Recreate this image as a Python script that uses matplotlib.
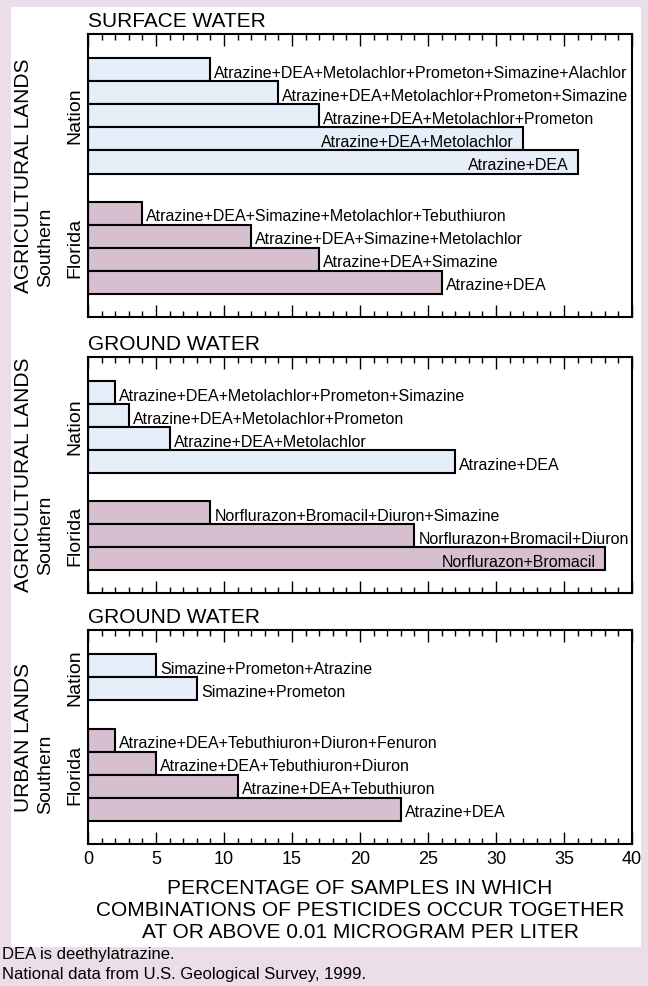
import matplotlib
matplotlib.use("Agg")
import matplotlib.pyplot as plt
from matplotlib.patches import Rectangle
from matplotlib.ticker import MultipleLocator
from matplotlib.transforms import blended_transform_factory

plt.rcParams["font.family"] = ["Liberation Sans", "DejaVu Sans"]

# surface water, agricultural lands
sw_nation_labels = [
    "Atrazine+DEA+Metolachlor+Prometon+Simazine+Alachlor",
    "Atrazine+DEA+Metolachlor+Prometon+Simazine",
    "Atrazine+DEA+Metolachlor+Prometon",
    "Atrazine+DEA+Metolachlor",
    "Atrazine+DEA",
]
sw_nation_values = [9, 14, 17, 32, 36]
sw_florida_labels = [
    "Atrazine+DEA+Simazine+Metolachlor+Tebuthiuron",
    "Atrazine+DEA+Simazine+Metolachlor",
    "Atrazine+DEA+Simazine",
    "Atrazine+DEA",
]
sw_florida_values = [4, 12, 17, 26]

# ground water, agricultural lands
gwa_nation_labels = [
    "Atrazine+DEA+Metolachlor+Prometon+Simazine",
    "Atrazine+DEA+Metolachlor+Prometon",
    "Atrazine+DEA+Metolachlor",
    "Atrazine+DEA",
]
gwa_nation_values = [2, 3, 6, 27]
gwa_florida_labels = [
    "Norflurazon+Bromacil+Diuron+Simazine",
    "Norflurazon+Bromacil+Diuron",
    "Norflurazon+Bromacil",
]
gwa_florida_values = [9, 24, 38]

# ground water, urban lands
gwu_nation_labels = ["Simazine+Prometon+Atrazine", "Simazine+Prometon"]
gwu_nation_values = [5, 8]
gwu_florida_labels = [
    "Atrazine+DEA+Tebuthiuron+Diuron+Fenuron",
    "Atrazine+DEA+Tebuthiuron+Diuron",
    "Atrazine+DEA+Tebuthiuron",
    "Atrazine+DEA",
]
gwu_florida_values = [2, 5, 11, 23]

x_ticks = [0, 5, 10, 15, 20, 25, 30, 35, 40]
x_label = ("PERCENTAGE OF SAMPLES IN WHICH\n"
           "COMBINATIONS OF PESTICIDES OCCUR TOGETHER\n"
           "AT OR ABOVE 0.01 MICROGRAM PER LITER")
notes = "DEA is deethylatrazine.\nNational data from U.S. Geological Survey, 1999."

BG = "#ebdee8"
NATION_C = "#e6eefa"
FLORIDA_C = "#d6bfcf"
W, H = 648, 986

fig = plt.figure(figsize=(W / 100, H / 100), dpi=100)
fig.patch.set_facecolor(BG)
fig.add_artist(Rectangle((11 / W, 1 - 947 / H), 630 / W, 940 / H,
                         transform=fig.transFigure, facecolor="white",
                         edgecolor="none", zorder=-5))


def px_axes(top, bottom):
    return fig.add_axes([88 / W, 1 - bottom / H, 544 / W, (bottom - top) / H])


def draw_panel(ax, title, land, nation, florida, last=False):
    n_vals, n_labs = nation
    f_vals, f_labs = florida
    top_pad, gap, bot_pad = 1.05, 1.22, 1.0
    n_y = list(range(len(n_vals)))
    f0 = len(n_vals) - 0.5 + gap + 0.5
    f_y = [f0 + i for i in range(len(f_vals))]

    ax.barh(n_y, n_vals, height=1.0, color=NATION_C, edgecolor="black", linewidth=1.5, zorder=2)
    ax.barh(f_y, f_vals, height=1.0, color=FLORIDA_C, edgecolor="black", linewidth=1.5, zorder=2)

    for ys, vals, labs in ((n_y, n_vals, n_labs), (f_y, f_vals, f_labs)):
        for y, v, lab in zip(ys, vals, labs):
            # long bars carry their label inside
            if v > 30:
                ax.annotate(lab, (v, y), xytext=(-9, -8), textcoords="offset pixels",
                            ha="right", va="baseline", fontsize=11.5)
            else:
                ax.annotate(lab, (v, y), xytext=(4, -8), textcoords="offset pixels",
                            ha="left", va="baseline", fontsize=11.5)

    ax.set_xlim(0, 40)
    ax.set_ylim(f_y[-1] + 0.5 + bot_pad, -0.5 - top_pad)
    ax.set_yticks([])
    ax.xaxis.set_major_locator(MultipleLocator(5))
    ax.xaxis.set_minor_locator(MultipleLocator(1))
    ax.tick_params(which="both", direction="in", top=True, bottom=True, width=1.0)
    ax.tick_params(which="major", length=8.5, pad=5, labelsize=13)
    ax.tick_params(which="minor", length=4.3)
    if last:
        ax.set_xticks(x_ticks)
    else:
        ax.tick_params(labelbottom=False)
    for s in ax.spines.values():
        s.set_linewidth(1.5)

    ax.set_title(title, loc="left", pad=5, fontsize=15)

    # group labels on the left
    tr = blended_transform_factory(fig.transFigure, ax.transData)
    fig.text(74.5 / W, (n_y[0] + n_y[-1]) / 2, "Nation", transform=tr, rotation=90,
             ha="center", va="center", fontsize=14)
    f_mid = (f_y[0] + f_y[-1]) / 2
    fig.text(45.5 / W, f_mid, "Southern", transform=tr, rotation=90,
             ha="center", va="center", fontsize=14)
    fig.text(74.5 / W, f_mid, "Florida", transform=tr, rotation=90,
             ha="center", va="center", fontsize=14)
    tr2 = blended_transform_factory(fig.transFigure, ax.transAxes)
    fig.text(24 / W, 0.5, land, transform=tr2, rotation=90, ha="center", va="center", fontsize=15)


ax1 = px_axes(34, 317)
draw_panel(ax1, "SURFACE WATER", "AGRICULTURAL LANDS",
           (sw_nation_values, sw_nation_labels), (sw_florida_values, sw_florida_labels))
ax2 = px_axes(357, 593)
draw_panel(ax2, "GROUND WATER", "AGRICULTURAL LANDS",
           (gwa_nation_values, gwa_nation_labels), (gwa_florida_values, gwa_florida_labels))
ax3 = px_axes(630, 844)
draw_panel(ax3, "GROUND WATER", "URBAN LANDS",
           (gwu_nation_values, gwu_nation_labels), (gwu_florida_values, gwu_florida_labels), last=True)

fig.text(360 / W, 1 - 879 / H, x_label, ha="center", va="top", fontsize=15, linespacing=1.2)
fig.text(2 / W, 1 - 947 / H, notes, ha="left", va="top", fontsize=12, linespacing=1.4)

fig.savefig("out.png", dpi=100, facecolor=fig.get_facecolor())
